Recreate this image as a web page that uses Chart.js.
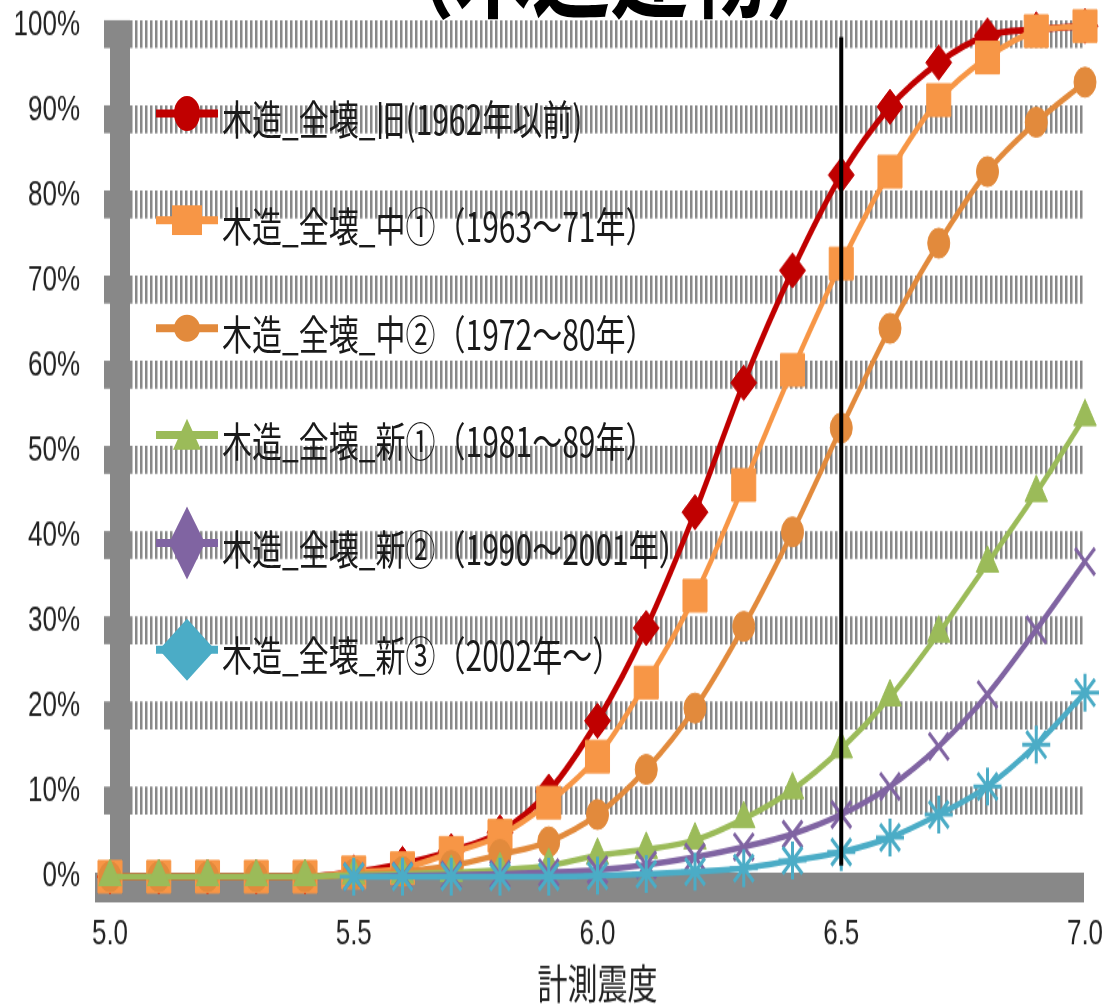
<!DOCTYPE html>
<html>
<head>
<meta charset="utf-8">
<script src="https://cdn.jsdelivr.net/npm/chart.js@4.4.0/dist/chart.umd.min.js"></script>
<style>
body { margin: 0; background: #fff; overflow: hidden; }
#myChart { position: absolute; left: 0; top: 0; display: block; }
#overlay { position: absolute; left: 0; top: 0; width: 1107px; height: 744px; transform: scaleY(1.3508); transform-origin: 0 0; }
.title { position: absolute; left: 376px; top: -66px; font: bold 78px "Noto Sans CJK JP"; line-height: 1; white-space: nowrap; color: #000; }
.legend-row { position: absolute; left: 150px; height: 50px; display: flex; align-items: center; }
.legend-row span { font: 30px "Noto Sans CJK JP"; line-height: 1; color: #1a1a1a; white-space: nowrap; position: relative; top: 3px; }
</style>
</head>
<body>
<canvas id="myChart" width="1107" height="744" style="width:1107px;height:1005px"></canvas>
<div id="overlay">
	<div class="title">（木造建物）</div>
	<div id="legend"></div>
</div>
<script>
// data
const xValues = [5.0, 5.1, 5.2, 5.3, 5.4, 5.5, 5.6, 5.7, 5.8, 5.9, 6.0, 6.1, 6.2, 6.3, 6.4, 6.5, 6.6, 6.7, 6.8, 6.9, 7.0];

const seriesNames = [
	'木造_全壊_旧(1962年以前)',
	'木造_全壊_中①（1963～71年）',
	'木造_全壊_中②（1972～80年）',
	'木造_全壊_新①（1981～89年）',
	'木造_全壊_新②（1990～2001年）',
	'木造_全壊_新③（2002年～）'
];

const oldValues = [0, 0, 0, 0, 0, 0.5, 1.5, 3, 5.2, 10, 18.3, 29.2, 42.8, 58, 71.2, 82.4, 90.4, 95.6, 98.8, 99.5, 99.9];
const mid1Values = [0, 0, 0, 0, 0, 0.5, 1, 2.8, 4.8, 8.7, 14.1, 22.8, 33, 46, 59.5, 72, 82.8, 91.2, 96.2, 99.3, 99.9];
const mid2Values = [0, 0, 0, 0, 0, 0.3, 0.6, 1.3, 2.6, 4.1, 7.3, 12.6, 19.8, 29.4, 40.5, 52.7, 64.4, 74.4, 82.8, 88.6, 93.3];
const new1Values = [0, 0, 0, 0, 0, 0.2, 0.3, 0.5, 0.8, 1.3, 2.5, 3.2, 4.3, 6.8, 10.2, 15, 21.1, 28.6, 36.8, 45.1, 54];
const new2Values = [null, null, null, null, null, 0, 0.1, 0.2, 0.3, 0.5, 0.8, 1.4, 2.3, 3.5, 5, 7.3, 10.6, 15.3, 21.4, 29, 37];
const new3Values = [null, null, null, null, null, 0, 0, 0, 0, 0, 0.1, 0.3, 0.6, 1, 1.9, 2.9, 4.6, 7.3, 10.6, 15.5, 21.6];

// vertical marker at 6.5
const markX = [6.5, 6.5];
const markY = [1.3, 98.6];

const xTickStep = 0.5;
const yTickStep = 10;

// style
const COLORS = ['#C00000', '#F79646', '#E28A3C', '#9BBB59', '#8064A2', '#4BACC6'];
const POINT_STYLES = ['rectRot', 'rect', 'circle', 'triangle', 'crossRot', 'star'];
const POINT_RADII = [13, 17, 11, 13, 14, 14];
const GRAY = '#888888';

const seriesValues = [oldValues, mid1Values, mid2Values, new1Values, new2Values, new3Values];

const datasets = seriesValues.map((values, i) => ({
	label: seriesNames[i],
	data: xValues.map((x, j) => ({ x: x, y: values[j] })),
	borderColor: COLORS[i],
	backgroundColor: COLORS[i],
	borderWidth: i === 0 ? 5 : 4.5,
	pointStyle: POINT_STYLES[i],
	pointRadius: POINT_RADII[i],
	pointBorderWidth: (POINT_STYLES[i] === 'crossRot' || POINT_STYLES[i] === 'star') ? 3 : 1,
	pointBorderColor: COLORS[i],
	pointBackgroundColor: COLORS[i],
	cubicInterpolationMode: 'monotone',
	clip: false,
	order: seriesValues.length - i
}));

datasets.push({
	label: 'mark',
	data: markX.map((x, j) => ({ x: x, y: markY[j] })),
	borderColor: '#000',
	borderWidth: 4,
	pointRadius: 0,
	tension: 0,
	order: 0
});

// hatched grid bands, thick axis bars
const bandsPlugin = {
	id: 'bands',
	beforeDatasetsDraw(chart) {
		const { ctx, chartArea, scales: { y } } = chart;
		const y0 = y.getPixelForValue(0);
		const yTop = y.getPixelForValue(100);
		ctx.save();
		ctx.fillStyle = GRAY;
		y.ticks.forEach(t => {
			if (t.value === 0) return;
			const py = y.getPixelForValue(t.value);
			ctx.fillRect(chartArea.left - 6, py - 3.7, 6, 20.7);
			ctx.save();
			ctx.strokeStyle = GRAY;
			ctx.lineWidth = 20.7;
			ctx.setLineDash([2.5, 2.5]);
			ctx.beginPath();
			ctx.moveTo(chartArea.left + 20, py + 6.65);
			ctx.lineTo(chartArea.right - 2, py + 6.65);
			ctx.stroke();
			ctx.restore();
		});
		ctx.fillRect(chartArea.left, yTop - 3.7, 20, y0 - yTop + 4);
		ctx.fillRect(chartArea.left - 15, y0 - 3, chartArea.right - chartArea.left + 14, 22);
		ctx.restore();
	}
};

const tickFont = { family: 'Liberation Sans', size: 26 };

new Chart(document.getElementById('myChart'), {
	type: 'line',
	data: { datasets },
	options: {
		responsive: false,
		animation: false,
		layout: { padding: { top: 18.5, right: 22, bottom: 0, left: 0 } },
		plugins: {
			legend: { display: false },
			tooltip: { enabled: false }
		},
		scales: {
			x: {
				type: 'linear',
				min: 5,
				max: 7,
				// tick marks hidden, tickLength only pushes the labels down
				grid: { display: false, drawTicks: true, tickLength: 24 },
				border: { display: false },
				ticks: {
					stepSize: xTickStep,
					callback: v => Number(v).toFixed(1),
					font: tickFont,
					color: '#222',
					padding: 3,
					maxRotation: 0,
					autoSkip: false
				},
				title: {
					display: true,
					text: '計測震度',
					font: { family: 'Noto Sans CJK JP', size: 30, lineHeight: 1.1 },
					color: '#222',
					padding: { top: 4, bottom: 0 }
				},
				afterFit: s => { s.height = 95; }
			},
			y: {
				min: 0,
				max: 100,
				grid: { display: false, drawTicks: true, tickLength: 27 },
				border: { display: false },
				ticks: {
					stepSize: yTickStep,
					callback: v => v + '%',
					font: tickFont,
					color: '#222',
					padding: 3
				},
				afterFit: s => { s.width = 110; }
			}
		}
	},
	plugins: [bandsPlugin]
});

// legend (html, inside chart area)
function legendMarker(i, c) {
	switch (i) {
		case 0: return `<ellipse cx="37" cy="25" rx="13" ry="13" fill="${c}"/>`;
		case 1: return `<rect x="22" y="14" width="30" height="22" fill="${c}"/>`;
		case 2: return `<ellipse cx="37" cy="25" rx="13" ry="10" fill="${c}"/>`;
		case 3: return `<polygon points="37,13 51,36 23,36" fill="${c}"/>`;
		case 4: return `<polygon points="37,-2 55,25 37,52 19,25" fill="${c}"/>`;
		default: return `<polygon points="37,2 65,25 37,48 9,25" fill="${c}"/>`;
	}
}

const legendEl = document.getElementById('legend');
seriesNames.forEach((name, i) => {
	const row = document.createElement('div');
	row.className = 'legend-row';
	row.style.top = (83.7 + i * 79.5 - 25) + 'px';
	row.innerHTML = `<svg width="72" height="50" style="overflow:visible">
		<line x1="6" y1="25" x2="68" y2="25" stroke="${COLORS[i]}" stroke-width="6"/>
		${legendMarker(i, COLORS[i])}
	</svg><span>${name}</span>`;
	legendEl.appendChild(row);
});
</script>
</body>
</html>
